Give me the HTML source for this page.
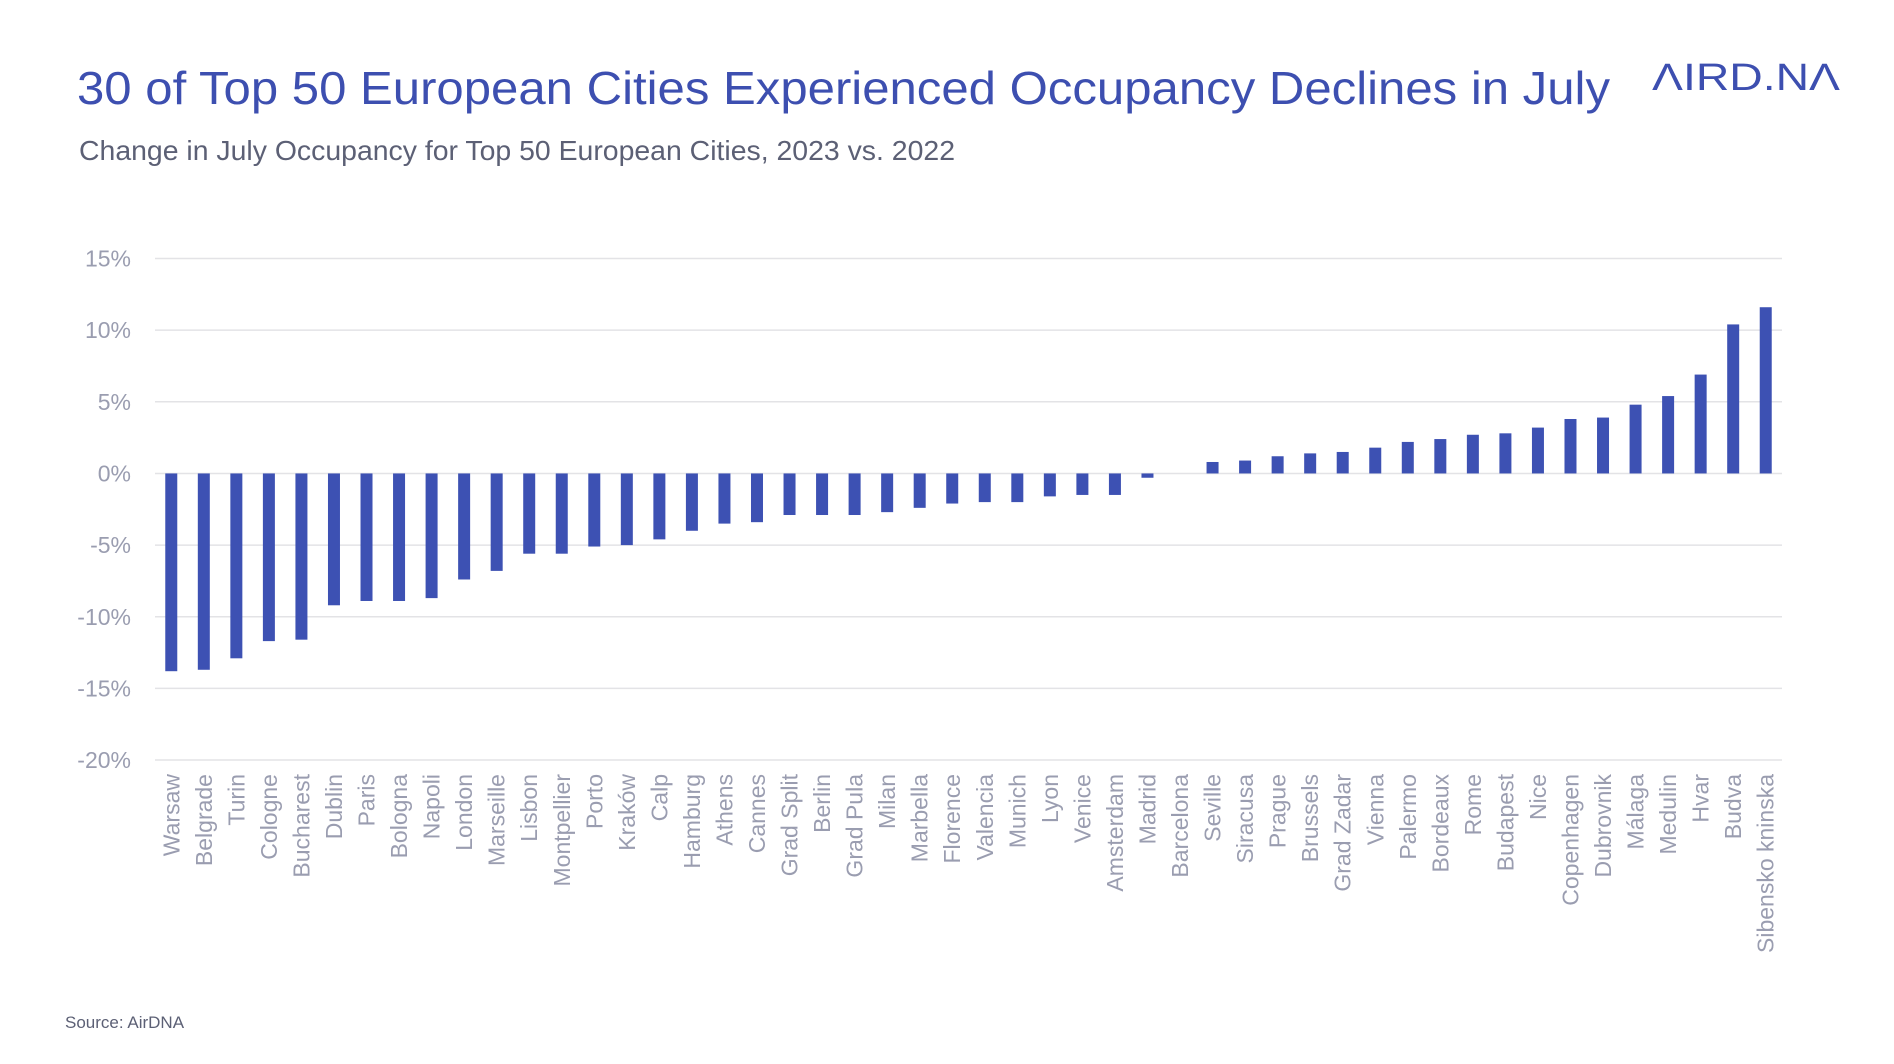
<!DOCTYPE html>
<html><head><meta charset="utf-8">
<style>
html,body{margin:0;padding:0;background:#fff;}
svg{display:block;}
</style></head>
<body>
<svg id="chart" width="1894" height="1064" viewBox="0 0 1894 1064" xmlns="http://www.w3.org/2000/svg">
  <text x="77" y="104" font-family="'Liberation Sans', sans-serif" font-size="46" fill="#3d4fb0" textLength="1533" lengthAdjust="spacingAndGlyphs">30 of Top 50 European Cities Experienced Occupancy Declines in July</text>
  <text x="79" y="160" font-family="'Liberation Sans', sans-serif" font-size="28" fill="#5c6075" textLength="876" lengthAdjust="spacingAndGlyphs">Change in July Occupancy for Top 50 European Cities, 2023 vs. 2022</text>
  <text x="1652" y="90" font-family="'Liberation Sans', sans-serif" font-size="38" fill="#3d4fb0" textLength="188" lengthAdjust="spacingAndGlyphs">ΛIRD.NΛ</text>
  <text x="65" y="1028" font-family="'Liberation Sans', sans-serif" font-size="17" fill="#5c6075">Source: AirDNA</text>
  <g id="grid"></g>
  <g id="bars"></g>
  <g id="xlabels"></g>
</svg>
<script>
const categories = ["Warsaw","Belgrade","Turin","Cologne","Bucharest","Dublin","Paris","Bologna","Napoli","London","Marseille","Lisbon","Montpellier","Porto","Kraków","Calp","Hamburg","Athens","Cannes","Grad Split","Berlin","Grad Pula","Milan","Marbella","Florence","Valencia","Munich","Lyon","Venice","Amsterdam","Madrid","Barcelona","Seville","Siracusa","Prague","Brussels","Grad Zadar","Vienna","Palermo","Bordeaux","Rome","Budapest","Nice","Copenhagen","Dubrovnik","Málaga","Medulin","Hvar","Budva","Sibensko kninska"];
const values = [-13.8,-13.7,-12.9,-11.7,-11.6,-9.2,-8.9,-8.9,-8.7,-7.4,-6.8,-5.6,-5.6,-5.1,-5.0,-4.6,-4.0,-3.5,-3.4,-2.9,-2.9,-2.9,-2.7,-2.4,-2.1,-2.0,-2.0,-1.6,-1.5,-1.5,-0.3,0,0.8,0.9,1.2,1.4,1.5,1.8,2.2,2.4,2.7,2.8,3.2,3.8,3.9,4.8,5.4,6.9,10.4,11.6];
const tickValues = [15,10,5,0,-5,-10,-15,-20];
const tickLabels = ["15%","10%","5%","0%","-5%","-10%","-15%","-20%"];

const NS = "http://www.w3.org/2000/svg";
const plotL = 155, plotR = 1782, y15 = 258.5, pxPerPct = 14.33;
const yScale = v => y15 + (15 - v) * pxPerPct;
const band = (plotR - plotL) / categories.length;
const xCenter = i => plotL + band * (i + 0.5);
const barW = 12;

const grid = document.getElementById('grid');
tickValues.forEach((t, i) => {
  const y = yScale(t);
  const ln = document.createElementNS(NS, 'line');
  ln.setAttribute('x1', plotL); ln.setAttribute('x2', plotR);
  ln.setAttribute('y1', y); ln.setAttribute('y2', y);
  ln.setAttribute('stroke', '#e3e3e6'); ln.setAttribute('stroke-width', '1.5');
  
  
  grid.appendChild(ln);
  const tx = document.createElementNS(NS, 'text');
  tx.setAttribute('x', 131); tx.setAttribute('y', y + 8);
  tx.setAttribute('text-anchor', 'end');
  tx.setAttribute('font-family', "'Liberation Sans', sans-serif");
  tx.setAttribute('font-size', '23'); tx.setAttribute('fill', '#9a9db0');
  tx.textContent = tickLabels[i];
  
  
  grid.appendChild(tx);
});

const bars = document.getElementById('bars');
const xl = document.getElementById('xlabels');
categories.forEach((c, i) => {
  const v = values[i];
  const y0 = yScale(0), y1 = yScale(v);
  const r = document.createElementNS(NS, 'rect');
  r.setAttribute('x', xCenter(i) - barW / 2);
  r.setAttribute('y', Math.min(y0, y1));
  r.setAttribute('width', barW);
  r.setAttribute('height', Math.abs(y1 - y0));
  r.setAttribute('fill', '#3d51b3');
  
  
  bars.appendChild(r);
  const t = document.createElementNS(NS, 'text');
  const lx = xCenter(i) + 8, ly = 774;
  t.setAttribute('x', lx); t.setAttribute('y', ly);
  t.setAttribute('transform', `rotate(-90 ${lx} ${ly})`);
  t.setAttribute('text-anchor', 'end');
  t.setAttribute('font-family', "'Liberation Sans', sans-serif");
  t.setAttribute('font-size', '23'); t.setAttribute('fill', '#9a9db0');
  t.textContent = c;
  
  
  xl.appendChild(t);
});
</script>
</body></html>
